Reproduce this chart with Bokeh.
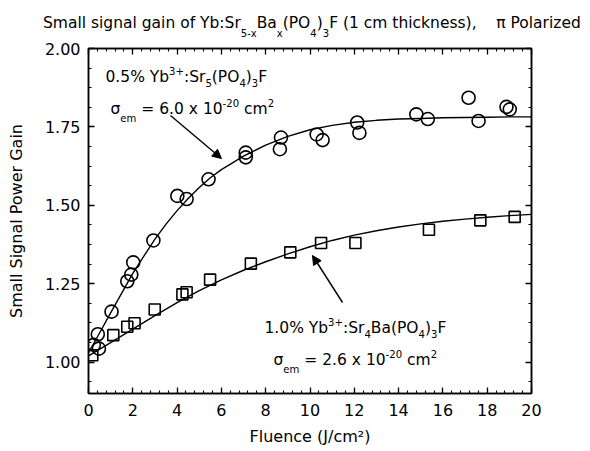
from bokeh.plotting import figure
from bokeh.layouts import column
from bokeh.models import (Label, LinearAxis, FixedTicker, Arrow, NormalHead,
                          Range1d, PrintfTickFormatter, CustomJSTickFormatter,
                          Div)
from bokeh.embed import file_html
from bokeh.resources import INLINE

FONT = "DejaVu Sans"

# 0.5% Yb3+:Sr5(PO4)3F  (circles)
circ_fluence = [0.24, 0.42, 0.47, 1.04, 1.75, 1.93, 2.02, 2.93, 4.01, 4.43,
                5.42, 7.10, 7.10, 8.64, 8.69, 10.30, 10.57, 12.13, 12.23,
                14.80, 15.32, 17.16, 17.61, 18.87, 19.02]
circ_gain = [1.055, 1.089, 1.043, 1.161, 1.258, 1.279, 1.318, 1.388, 1.530,
             1.520, 1.583, 1.668, 1.653, 1.679, 1.716, 1.726, 1.708, 1.764,
             1.731, 1.790, 1.775, 1.843, 1.769, 1.814, 1.806]

# 1.0% Yb3+:Sr4Ba(PO4)3F  (squares)
sq_fluence = [0.17, 1.12, 1.75, 2.08, 2.99, 4.24, 4.43, 5.49, 7.33, 9.11,
              10.50, 12.05, 15.37, 17.69, 19.24]
sq_gain = [1.022, 1.086, 1.113, 1.124, 1.168, 1.216, 1.223, 1.263, 1.314,
           1.350, 1.380, 1.380, 1.422, 1.452, 1.463]

# fitted gain curves
fit1_fluence = [0, 0.5, 1, 1.5, 2, 2.5, 3, 3.5, 4, 4.5, 5, 5.5, 6, 7, 8, 9,
                10, 11, 12, 13, 14, 15, 16, 17, 18, 19, 20]
fit1_gain = [1.030, 1.093, 1.157, 1.220, 1.283, 1.338, 1.392, 1.440, 1.483,
             1.522, 1.557, 1.588, 1.614, 1.657, 1.692, 1.720, 1.741, 1.755,
             1.765, 1.771, 1.775, 1.777, 1.779, 1.780, 1.781, 1.782, 1.782]
fit2_fluence = [0, 1, 2, 3, 4, 5, 6, 7, 8, 9, 10, 11, 12, 13, 14, 15, 16,
                17, 18, 19, 20]
fit2_gain = [1.020, 1.062, 1.105, 1.148, 1.190, 1.228, 1.262, 1.293, 1.320,
             1.345, 1.368, 1.388, 1.405, 1.419, 1.431, 1.441, 1.449, 1.456,
             1.462, 1.467, 1.471]

x_ticks = [0, 2, 4, 6, 8, 10, 12, 14, 16, 18, 20]
x_minor = [i * 0.4 for i in range(51)]
y_ticks = [1.00, 1.25, 1.50, 1.75, 2.00]
y_minor = [0.875 + i * 0.0625 for i in range(19)]

W_PX, TITLE_H = 590, 40
X0, X1, Y0, Y1 = 0, 20, 0.9, 2.0
L, R, T, B = 88, 531, 48, 393          # frame edges on the page


def px2x(px):
    return X0 + (px - L) / (R - L) * (X1 - X0)


def px2y(py):
    return Y1 - (py - T) / (B - T) * (Y1 - Y0)


# advance widths of DejaVu Sans (em units)
W = {' ': .318, '%': .950, '(': .390, ')': .390, '+': .838, ',': .318,
     '-': .361, '.': .318, '/': .337, ':': .337, '=': .838, 'B': .686,
     'F': .575, 'J': .295, 'O': .787, 'P': .603, 'S': .635, 'Y': .611,
     'a': .613, 'b': .635, 'c': .550, 'd': .635, 'e': .615, 'f': .352,
     'g': .635, 'h': .634, 'i': .278, 'k': .579, 'l': .278, 'm': .974,
     'n': .634, 'o': .612, 'r': .411, 's': .521, 't': .392, 'u': .634,
     'x': .592, 'z': .525, 'σ': .637, 'π': .602}
for d in "0123456789":
    W[d] = .636


def text_w(s, fs):
    return sum(W.get(ch, 0.6) for ch in s) * fs


def rich(fig, x, y, parts, size):
    """Draw a run of normal / lowered / raised text pieces from a baseline."""
    cur = 0.0
    for text, scale, dy in parts:
        fs = size * scale
        lead = len(text) - len(text.lstrip(" "))
        cur += text_w(" " * lead, fs)
        body = text.strip(" ")
        if body:
            fig.add_layout(Label(x=x, y=y, x_offset=cur, y_offset=dy * size,
                                 text=body, text_font=FONT,
                                 text_font_size=f"{fs:.1f}px",
                                 text_color="black",
                                 text_baseline="alphabetic",
                                 text_align="left"))
        cur += text_w(text.lstrip(" "), fs)


def low(s):
    return f'<span style="font-size:10px;position:relative;top:9px">{s}</span>'


heading = Div(
    text=("Small signal gain of Yb:Sr" + low("5-x") + "Ba" + low("x") +
          "(PO" + low("4") + ")" + low("3") +
          "F (1 cm thickness),&nbsp;&nbsp;&nbsp;&nbsp;π Polarized"),
    width=W_PX, height=TITLE_H, margin=(0, 0, 0, 0),
    styles={"font-family": FONT, "font-size": "15.5px", "color": "black",
            "white-space": "nowrap", "line-height": "18px",
            "padding-left": "43px", "padding-top": "14px",
            "box-sizing": "border-box", "background": "white"})

p = figure(width=W_PX, height=451 - TITLE_H, x_range=Range1d(X0, X1),
           y_range=Range1d(Y0, Y1), output_backend="svg",
           toolbar_location=None, min_border_left=L,
           min_border_right=W_PX - R, min_border_top=T - TITLE_H,
           min_border_bottom=451 - B, margin=(0, 0, 0, 0),
           x_axis_label="Fluence (J/cm²)",
           y_axis_label="Small Signal Power Gain")
p.grid.visible = False
p.background_fill_color = "white"
p.border_fill_color = "white"
p.outline_line_color = "black"
p.outline_line_width = 1.5

bottom = p.below[0]
left = p.left[0]
xt = FixedTicker(ticks=x_ticks, minor_ticks=x_minor)
yt = FixedTicker(ticks=y_ticks, minor_ticks=y_minor)
bottom.ticker = xt
left.ticker = yt
left.formatter = PrintfTickFormatter(format="%.2f")

top = LinearAxis(ticker=xt, formatter=CustomJSTickFormatter(code="return ''"))
right = LinearAxis(ticker=yt, formatter=CustomJSTickFormatter(code="return ''"))
p.add_layout(top, "above")
p.add_layout(right, "right")

for ax in [bottom, left, top, right]:
    ax.major_tick_in = 6
    ax.major_tick_out = 0
    ax.minor_tick_in = 3
    ax.minor_tick_out = 0
    ax.axis_line_width = 1.5
    ax.major_tick_line_width = 1.3
    ax.minor_tick_line_width = 1.1
    ax.major_label_text_font = FONT
    ax.major_label_text_font_size = "16px"
    ax.major_label_text_color = "black"
    ax.axis_label_text_font = FONT
    ax.axis_label_text_font_size = "16px"
    ax.axis_label_text_font_style = "normal"
    ax.axis_label_text_color = "black"

bottom.major_label_standoff = 10
bottom.axis_label_standoff = 8
left.major_label_standoff = 8
left.axis_label_standoff = 16

p.line(fit1_fluence, fit1_gain, line_color="black", line_width=1.4)
p.line(fit2_fluence, fit2_gain, line_color="black", line_width=1.4)
p.scatter(circ_fluence, circ_gain, marker="circle", size=13,
          fill_color=None, line_color="black", line_width=1.6)
p.scatter(sq_fluence, sq_gain, marker="square", size=11,
          fill_color=None, line_color="black", line_width=1.6)

p.add_layout(Arrow(end=NormalHead(size=9, fill_color="black",
                                  line_color="black"),
                   x_start=px2x(170), y_start=px2y(115),
                   x_end=px2x(221), y_end=px2y(158),
                   line_color="black", line_width=1.4))
p.add_layout(Arrow(end=NormalHead(size=9, fill_color="black",
                                  line_color="black"),
                   x_start=px2x(342), y_start=px2y(302),
                   x_end=px2x(312), y_end=px2y(255),
                   line_color="black", line_width=1.4))

N, S = 1.0, 0.65
rich(p, px2x(105), px2y(76),
     [("0.5% Yb", N, 0), ("3+", S, 0.33), (":Sr", N, 0), ("5", S, -0.42),
      ("(PO", N, 0), ("4", S, -0.42), (")", N, 0), ("3", S, -0.42),
      ("F", N, 0)], 15.5)
rich(p, px2x(110), px2y(108),
     [("σ", N, 0), ("em", S, -0.62), (" = 6.0 x 10", N, 0),
      ("-20", S, 0.33), (" cm", N, 0), ("2", S, 0.33)], 15.5)
rich(p, px2x(264), px2y(327),
     [("1.0% Yb", N, 0), ("3+", S, 0.33), (":Sr", N, 0), ("4", S, -0.42),
      ("Ba(PO", N, 0), ("4", S, -0.42), (")", N, 0), ("3", S, -0.42),
      ("F", N, 0)], 15.5)
rich(p, px2x(273), px2y(359),
     [("σ", N, 0), ("em", S, -0.62), (" = 2.6 x 10", N, 0),
      ("-20", S, 0.33), (" cm", N, 0), ("2", S, 0.33)], 15.5)

open("out.html", "w").write(file_html(column(heading, p, spacing=0), INLINE))
